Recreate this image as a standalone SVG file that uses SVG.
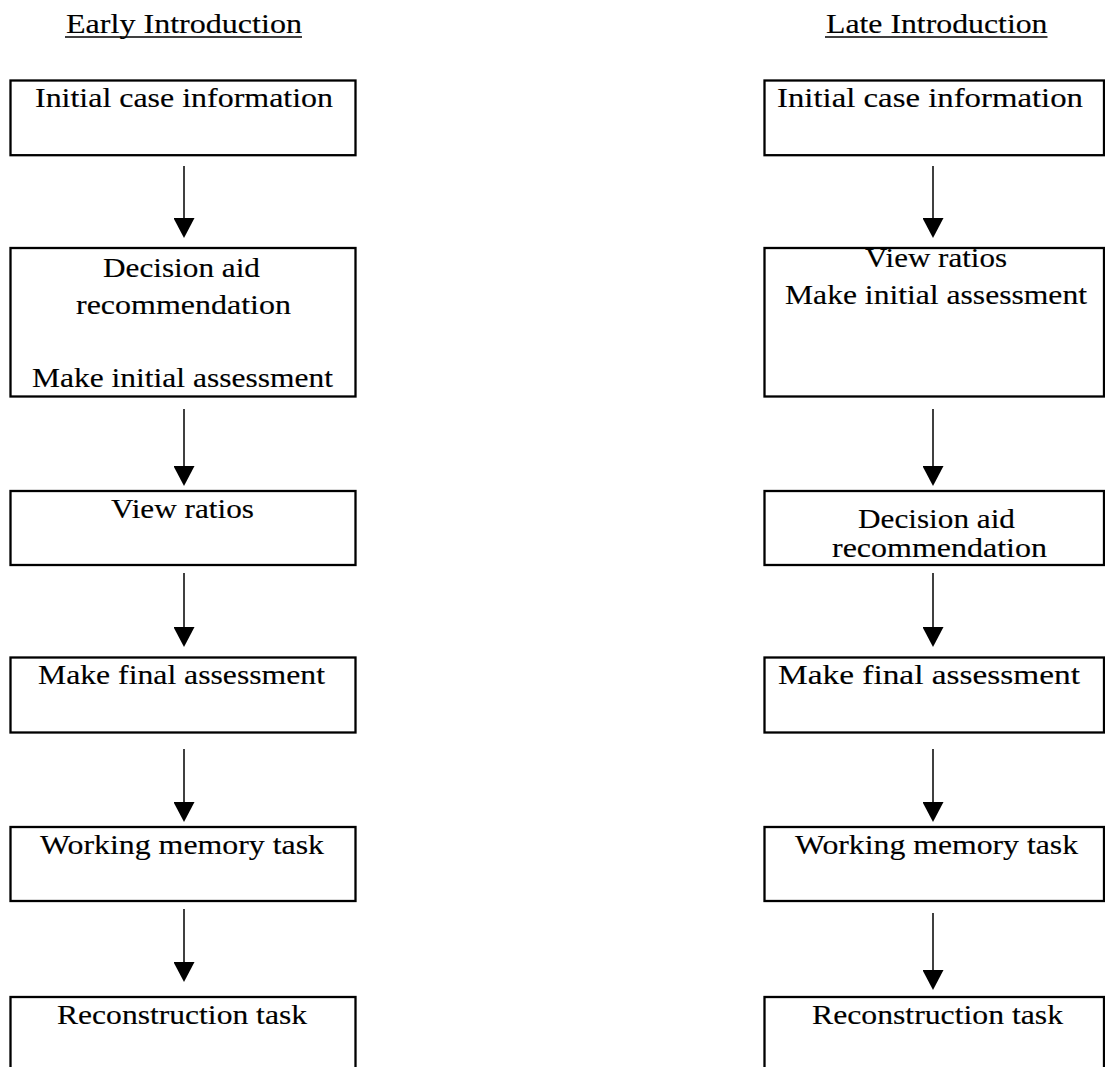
<svg xmlns="http://www.w3.org/2000/svg" width="1105" height="1067" viewBox="0 0 1105 1067">
<style>
  .bg { fill: #ffffff; }
  .box { fill: none; stroke: #000000; stroke-width: 2.3; }
  .t { font-family: "Liberation Serif", "Times New Roman", serif; font-size: 28px; fill: #000000; stroke: #000000; stroke-width: 0.15; }
  .ul { stroke: #000000; stroke-width: 1.6; }
  .conn { stroke: #000000; stroke-width: 1.5; fill: none; marker-end: url(#arrow); }
</style>
<defs>
  <marker id="arrow" markerUnits="userSpaceOnUse" viewBox="0 0 20 21" markerWidth="20" markerHeight="21" refX="15" refY="10.5" orient="auto">
    <path d="M0,0 L20,10.5 L0,21 Z" fill="#000000"/>
  </marker>
</defs>
<rect class="bg" x="0" y="0" width="1105" height="1067"/>

<g id="header-early">
  <text class="t" x="66" y="32.5" textLength="236" lengthAdjust="spacingAndGlyphs">Early Introduction</text>
  <line class="ul" x1="65" y1="37" x2="302" y2="37"/>
</g>
<g id="header-late">
  <text class="t" x="826" y="32.5" textLength="221.5" lengthAdjust="spacingAndGlyphs">Late Introduction</text>
  <line class="ul" x1="825" y1="37" x2="1047.5" y2="37"/>
</g>

<!-- Left column -->
<g id="L1">
  <rect class="box" x="10.5" y="80.5" width="345" height="74.7"/>
  <text class="t" x="35" y="106.5" textLength="298" lengthAdjust="spacingAndGlyphs">Initial case information</text>
</g>
<g id="L2">
  <rect class="box" x="10.5" y="248" width="345" height="148.5"/>
  <text class="t" x="103" y="277" textLength="157" lengthAdjust="spacingAndGlyphs">Decision aid</text>
  <text class="t" x="76" y="314" textLength="215" lengthAdjust="spacingAndGlyphs">recommendation</text>
  <text class="t" x="32" y="387" textLength="301" lengthAdjust="spacingAndGlyphs">Make initial assessment</text>
</g>
<g id="L3">
  <rect class="box" x="10.5" y="491" width="345" height="74"/>
  <text class="t" x="111" y="518" textLength="143" lengthAdjust="spacingAndGlyphs">View ratios</text>
</g>
<g id="L4">
  <rect class="box" x="10.5" y="657.5" width="345" height="75"/>
  <text class="t" x="38" y="684" textLength="287" lengthAdjust="spacingAndGlyphs">Make final assessment</text>
</g>
<g id="L5">
  <rect class="box" x="10.5" y="827" width="345" height="74"/>
  <text class="t" x="40" y="854" textLength="284" lengthAdjust="spacingAndGlyphs">Working memory task</text>
</g>
<g id="L6">
  <rect class="box" x="10.5" y="997" width="345" height="90"/>
  <text class="t" x="57" y="1023.5" textLength="250" lengthAdjust="spacingAndGlyphs">Reconstruction task</text>
</g>

<!-- Right column -->
<g id="R1">
  <rect class="box" x="764.5" y="80.5" width="339.5" height="74.7"/>
  <text class="t" x="777" y="106.5" textLength="306" lengthAdjust="spacingAndGlyphs">Initial case information</text>
</g>
<g id="R2">
  <rect class="box" x="764.5" y="248" width="339.5" height="148.5"/>
  <text class="t" x="865" y="266.5" textLength="142" lengthAdjust="spacingAndGlyphs">View ratios</text>
  <text class="t" x="785" y="303.5" textLength="302" lengthAdjust="spacingAndGlyphs">Make initial assessment</text>
</g>
<g id="R3">
  <rect class="box" x="764.5" y="491" width="339.5" height="74"/>
  <text class="t" x="858" y="527.5" textLength="157" lengthAdjust="spacingAndGlyphs">Decision aid</text>
  <text class="t" x="832" y="556.5" textLength="215" lengthAdjust="spacingAndGlyphs">recommendation</text>
</g>
<g id="R4">
  <rect class="box" x="764.5" y="657.5" width="339.5" height="75"/>
  <text class="t" x="778" y="684" textLength="302" lengthAdjust="spacingAndGlyphs">Make final assessment</text>
</g>
<g id="R5">
  <rect class="box" x="764.5" y="827" width="339.5" height="74"/>
  <text class="t" x="795" y="854" textLength="283" lengthAdjust="spacingAndGlyphs">Working memory task</text>
</g>
<g id="R6">
  <rect class="box" x="764.5" y="997" width="339.5" height="90"/>
  <text class="t" x="812" y="1024" textLength="251" lengthAdjust="spacingAndGlyphs">Reconstruction task</text>
</g>

<g id="connectors">
  <line class="conn" x1="184" y1="166" x2="184" y2="233"/>
  <line class="conn" x1="184" y1="409" x2="184" y2="481"/>
  <line class="conn" x1="184" y1="573" x2="184" y2="642"/>
  <line class="conn" x1="184" y1="749" x2="184" y2="817"/>
  <line class="conn" x1="184" y1="909" x2="184" y2="977"/>
  <line class="conn" x1="933" y1="166" x2="933" y2="233"/>
  <line class="conn" x1="933" y1="409" x2="933" y2="481"/>
  <line class="conn" x1="933" y1="573" x2="933" y2="642"/>
  <line class="conn" x1="933" y1="749" x2="933" y2="817"/>
  <line class="conn" x1="933" y1="913" x2="933" y2="985"/>
</g>
</svg>
